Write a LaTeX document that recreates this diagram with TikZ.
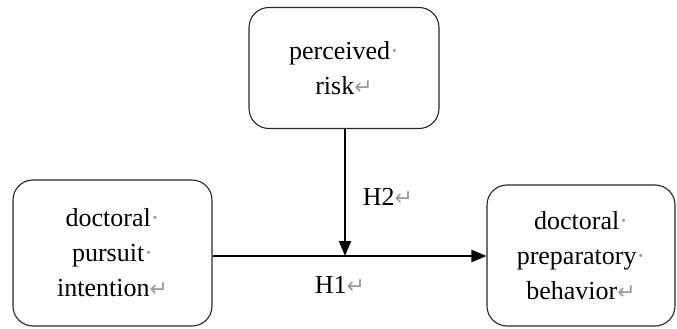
\documentclass[tikz,border=0pt]{standalone}
\usepackage{fontspec}
\setmainfont{Liberation Serif}
\newfontfamily\markfont{DejaVu Sans}
\usetikzlibrary{arrows.meta}
\definecolor{markgray}{HTML}{9A9A9A}
\newcommand{\spmark}{{\color{markgray}\textperiodcentered}}
\newcommand{\parmark}{{\color{markgray}\markfont\fontsize{22pt}{22pt}\selectfont ↵}}
\begin{document}
\begin{tikzpicture}[x=1pt,y=-1pt,
  varbox/.style={draw=black!85, line width=1.1pt, rounded corners=20pt, align=center,
    font=\fontsize{26pt}{35pt}\selectfont, inner sep=0pt},
  arr/.style={line width=2pt, -{Triangle[length=15pt,width=12pt]}},
  hlabel/.style={font=\fontsize{26pt}{30pt}\selectfont, inner sep=0pt}]
\useasboundingbox (0,0) rectangle (677,329);
\node[varbox, minimum width=190pt, minimum height=121pt] (risk) at (344,68)
  {perceived\spmark\\risk\parmark};
\node[varbox, minimum width=199pt, minimum height=146pt] (intent) at (112.5,253)
  {doctoral\spmark\\pursuit\spmark\\intention\parmark};
\node[varbox, minimum width=188pt, minimum height=141pt] (behav) at (581,255.5)
  {doctoral\spmark\\preparatory\spmark\\behavior\parmark};
\coordinate (meet) at (345,256);
\draw[arr] (intent.east |- meet) -- (behav.west |- meet);
\draw[arr] (risk.south -| meet) -- (meet);
\node[hlabel] (h2) at (388,197) {H2\parmark};
\node[hlabel] (h1) at (340,285) {H1\parmark};
\end{tikzpicture}
\end{document}
